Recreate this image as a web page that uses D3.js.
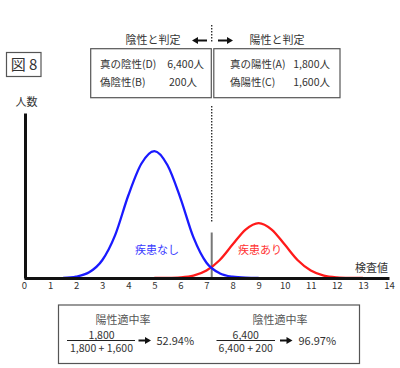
<!DOCTYPE html>
<html><head><meta charset="utf-8">
<script src="https://cdn.jsdelivr.net/npm/d3@7"></script>
<style>
body{margin:0;background:#fff;}
svg{display:block;}
text{font-family:"Noto Sans CJK JP","Noto Sans",sans-serif;}
</style></head>
<body><svg id="c" width="400" height="368"></svg>
<script>
// ---- data ----
const xTicks = [0,1,2,3,4,5,6,7,8,9,10,11,12,13,14];
const xs = [0,0.5,1,1.5,2,2.5,3,3.5,4,4.5,5,5.5,6,6.5,7,7.5,8,8.5,9,9.5,10,10.5,11,11.5,12,12.5,13,13.5,14];
const noDisease = [0,0,0,0,1.1,4.5,14,34,65,90,100,89,63,32,12,3.8,1,0.2,0,0,0,0,0,0,0,0,0,0,0];
const disease   = [0,0,0,0,0,0,0,0,0,0,0,0.1,0.5,1.9,5.9,14,26.3,38.2,43.3,38.2,26.3,14,5.9,1.9,0.5,0.1,0,0,0];
const cutoff = 7.2;
const negLabel = "陰性と判定", posLabel = "陽性と判定";
const negRows = [["真の陰性(D)","6,400人"],["偽陰性(B)","200人"]];
const posRows = [["真の陽性(A)","1,800人"],["偽陽性(C)","1,600人"]];
const ppv = {title:"陽性適中率", num:"1,800", den:"1,800 + 1,600", result:"52.94%"};
const npv = {title:"陰性適中率", num:"6,400", den:"6,400 + 200", result:"96.97%"};

const svg = d3.select("#c");
const x = d3.scaleLinear().domain([0,14]).range([24,389]);
const y = d3.scaleLinear().domain([0,130]).range([278,113]);
const txt = "#333";

// figure label
svg.append("rect").attr("x",6.5).attr("y",52.5).attr("width",34.5).attr("height",24)
  .attr("fill","none").attr("stroke","#555").attr("stroke-width",1.2);
svg.append("text").attr("x",24).attr("y",70).attr("text-anchor","middle")
  .attr("font-size",15).attr("fill",txt).text("図 8");

// cutoff lines
svg.append("line").attr("x1",x(cutoff)).attr("x2",x(cutoff)).attr("y1",25).attr("y2",42)
  .attr("stroke","#222").attr("stroke-width",1.3).attr("stroke-dasharray","1.5,1.5");
svg.append("line").attr("x1",x(cutoff)).attr("x2",x(cutoff)).attr("y1",106).attr("y2",223)
  .attr("stroke","#222").attr("stroke-width",1.3).attr("stroke-dasharray","1.5,1.5");
svg.append("line").attr("x1",x(cutoff)).attr("x2",x(cutoff)).attr("y1",232.5).attr("y2",278)
  .attr("stroke","#777").attr("stroke-width",2);

// curves (drawn only over their non-zero span)
function span(vals){
  const pts = vals.map((v,i)=>[xs[i],v]);
  let a = pts.findIndex(p=>p[1]>0), b = pts.length-1;
  while(b>0 && pts[b][1]===0) b--;
  return pts.slice(Math.max(0,a-1), Math.min(pts.length,b+2));
}
const line = d3.line().x(d=>x(d[0])).y(d=>y(d[1])).curve(d3.curveMonotoneX);
svg.append("path").datum(span(disease)).attr("d",line).attr("fill","none")
  .attr("stroke","#ff1a1a").attr("stroke-width",2.3);
svg.append("path").datum(span(noDisease)).attr("d",line).attr("fill","none")
  .attr("stroke","#1a1aff").attr("stroke-width",2.3);

// axes (on top of curve tails)
const xAxis = svg.append("g").attr("transform","translate(0,278)")
  .call(d3.axisBottom(x).tickValues(xTicks).tickSize(0).tickSizeOuter(0).tickPadding(4));
xAxis.select(".domain").attr("stroke","#111").attr("stroke-width",3);
xAxis.selectAll("text").attr("font-size",9.5).attr("fill",txt).attr("font-family","'Noto Sans',sans-serif");
const yAxis = svg.append("g").attr("transform","translate(25,0)")
  .call(d3.axisLeft(y).tickValues([]).tickSizeOuter(0));
yAxis.select(".domain").attr("stroke","#111").attr("stroke-width",3);

svg.append("text").attr("x",26.5).attr("y",105.5).attr("text-anchor","middle")
  .attr("font-size",11).attr("fill",txt).text("人数");
svg.append("text").attr("x",371.5).attr("y",272).attr("text-anchor","middle")
  .attr("font-size",11).attr("fill",txt).text("検査値");

svg.append("text").attr("x",157).attr("y",254).attr("text-anchor","middle")
  .attr("font-size",11).attr("fill","#3a3aff").text("疾患なし");
svg.append("text").attr("x",260).attr("y",254).attr("text-anchor","middle")
  .attr("font-size",11).attr("fill","#ff3333").text("疾患あり");

// arrows
function arrow(x1,x2,yy,w){
  const dir = Math.sign(x2-x1), hl = 6, hw = 3.5;
  svg.append("line").attr("x1",x1).attr("x2",x2-dir*hl+dir*0.5).attr("y1",yy).attr("y2",yy)
    .attr("stroke","#111").attr("stroke-width",w);
  svg.append("path").attr("d",`M${x2},${yy}L${x2-dir*hl},${yy-hw}L${x2-dir*hl},${yy+hw}Z`).attr("fill","#111");
}
svg.append("text").attr("x",153).attr("y",44).attr("text-anchor","middle")
  .attr("font-size",11).attr("fill",txt).text(negLabel);
svg.append("text").attr("x",277).attr("y",44).attr("text-anchor","middle")
  .attr("font-size",11).attr("fill",txt).text(posLabel);
arrow(207,192,40.5,2);
arrow(218,233,40.5,2);

// count boxes
function box(x0,x1,rows,lx,rx){
  svg.append("rect").attr("x",x0).attr("y",48.7).attr("width",x1-x0).attr("height",49)
    .attr("fill","none").attr("stroke","#555").attr("stroke-width",1.2);
  rows.forEach((r,i)=>{
    const yy = 67.5 + i*18.5;
    svg.append("text").attr("x",lx).attr("y",yy).attr("font-size",10.5).attr("fill",txt).text(r[0]);
    svg.append("text").attr("x",rx[i]).attr("y",yy).attr("text-anchor","end").attr("font-size",10.5).attr("fill",txt).text(r[1]);
  });
}
box(90.7,211.3,negRows,100,[204,197]);
box(213.8,340,posRows,230,[330,330]);

// bottom box
svg.append("rect").attr("x",58.5).attr("y",305).attr("width",301).attr("height",58.5)
  .attr("fill","none").attr("stroke","#555").attr("stroke-width",1.2);
function frac(o,cx,tx,l0,l1,a0,a1,rx){
  svg.append("text").attr("x",tx).attr("y",324).attr("text-anchor","middle")
    .attr("font-size",11).attr("fill","#555").text(o.title);
  svg.append("text").attr("x",cx).attr("y",338.5).attr("text-anchor","middle")
    .attr("font-size",10.5).attr("fill",txt).text(o.num);
  svg.append("line").attr("x1",l0).attr("x2",l1).attr("y1",340.5).attr("y2",340.5)
    .attr("stroke","#222").attr("stroke-width",1.2);
  svg.append("text").attr("x",cx).attr("y",352).attr("text-anchor","middle")
    .attr("font-size",10.5).attr("fill",txt).text(o.den);
  arrow(a0,a1,340.5,2);
  svg.append("text").attr("x",rx).attr("y",345).attr("font-size",11).attr("fill",txt).text(o.result);
}
frac(ppv,101.5,123,67,135,138.5,151,156.5);
frac(npv,245.7,280,216.5,275,280,292.5,298.5);
</script></body></html>
